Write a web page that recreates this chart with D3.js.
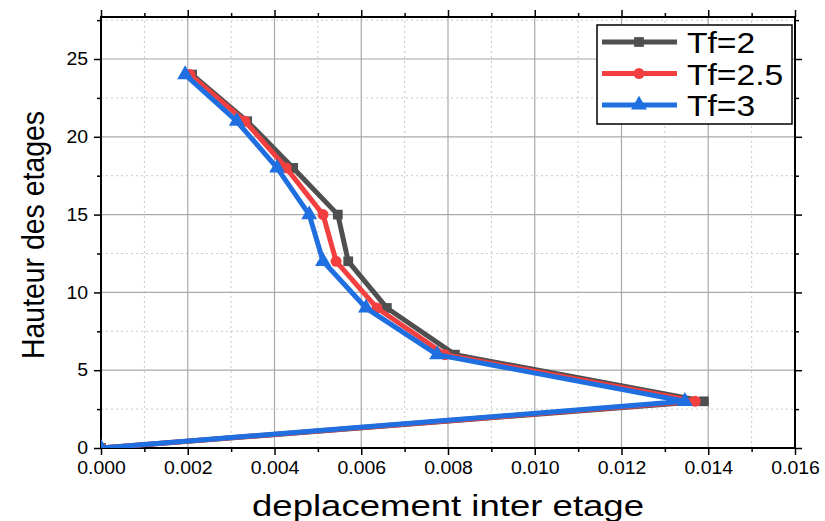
<!DOCTYPE html>
<html>
<head>
<meta charset="utf-8">
<script src="https://cdn.jsdelivr.net/npm/d3@7"></script>
<style>
  body { margin: 0; background: #fff; }
  text { font-family: "Liberation Sans", Arial, sans-serif; }
</style>
</head>
<body>
<div id="chart"></div>
<script>
const heights = [0, 3, 6, 9, 12, 15, 18, 21, 24];
const seriesNames = ["Tf=2", "Tf=2.5", "Tf=3"];
const tf2 = [0, 0.0139, 0.00816, 0.00659, 0.00570, 0.00546, 0.00443, 0.00337, 0.0021];
const tf25 = [0, 0.0137, 0.00793, 0.00636, 0.00542, 0.00512, 0.00427, 0.00332, 0.00205];
const tf3 = [0, 0.01346, 0.00775, 0.00611, 0.00512, 0.00480, 0.00406, 0.00313, 0.00194];
const colors = ["#4f4f4f", "#f23f3f", "#1f6fe0"];
const symbols = [d3.symbolSquare, d3.symbolCircle, d3.symbolTriangle];

const width = 825, height = 521;
const margin = {left: 101, right: 30, top: 17, bottom: 73};

const svg = d3.select("#chart").append("svg")
    .attr("width", width)
    .attr("height", height);

const x = d3.scaleLinear().domain([0, 0.016]).range([margin.left, width - margin.right]);
const y = d3.scaleLinear().domain([0, 27.7]).range([height - margin.bottom, margin.top]);

const x0 = x.range()[0], x1 = x.range()[1];
const y0 = y.range()[0], y1 = y.range()[1];

// stretch text a bit wider like the original export
function widen(sel, k) {
    sel.each(function() {
        const w = this.getComputedTextLength();
        d3.select(this).attr("textLength", w * k).attr("lengthAdjust", "spacingAndGlyphs");
    });
}

// grid
const gx = svg.append("g");
d3.range(0.001, 0.016, 0.002).forEach(v => {
    gx.append("line").attr("x1", x(v)).attr("x2", x(v)).attr("y1", y0).attr("y2", y1)
        .attr("stroke", "#c8c8c8").attr("stroke-width", 1).attr("stroke-dasharray", "2,3");
});
d3.range(2.5, 27.7, 5).forEach(v => {
    gx.append("line").attr("x1", x0).attr("x2", x1).attr("y1", y(v)).attr("y2", y(v))
        .attr("stroke", "#c8c8c8").attr("stroke-width", 1).attr("stroke-dasharray", "2,3");
});
d3.range(0.002, 0.0159, 0.002).forEach(v => {
    gx.append("line").attr("x1", x(v)).attr("x2", x(v)).attr("y1", y0).attr("y2", y1)
        .attr("stroke", "#a8a8a8").attr("stroke-width", 1.2);
});
[5, 10, 15, 20, 25].forEach(v => {
    gx.append("line").attr("x1", x0).attr("x2", x1).attr("y1", y(v)).attr("y2", y(v))
        .attr("stroke", "#a8a8a8").attr("stroke-width", 1.2);
});

// axes
const fmt = d3.format(".3f");
const xTicks = d3.range(0, 0.0161, 0.002);
const yTicks = [0, 5, 10, 15, 20, 25];
const xMinorTicks = d3.range(0.001, 0.016, 0.002);
const yMinorTicks = [2.5, 7.5, 12.5, 17.5, 22.5, 27.5];

const xAxis = svg.append("g").attr("transform", `translate(0,${y0})`)
    .call(d3.axisBottom(x).tickValues(xTicks).tickFormat(fmt).tickSize(7).tickPadding(6));
const xMinor = svg.append("g").attr("transform", `translate(0,${y0})`)
    .call(d3.axisBottom(x).tickValues(xMinorTicks).tickFormat("").tickSize(4));
const xTop = svg.append("g").attr("transform", `translate(0,${y1})`)
    .call(d3.axisTop(x).tickValues(xTicks).tickFormat("").tickSize(7));
const xTopMinor = svg.append("g").attr("transform", `translate(0,${y1})`)
    .call(d3.axisTop(x).tickValues(xMinorTicks).tickFormat("").tickSize(4));

const yAxis = svg.append("g").attr("transform", `translate(${x0},0)`)
    .call(d3.axisLeft(y).tickValues(yTicks).tickSize(7).tickPadding(6));
const yMinor = svg.append("g").attr("transform", `translate(${x0},0)`)
    .call(d3.axisLeft(y).tickValues(yMinorTicks).tickFormat("").tickSize(4));
const yRight = svg.append("g").attr("transform", `translate(${x1},0)`)
    .call(d3.axisRight(y).tickValues(yTicks).tickFormat("").tickSize(7));
const yRightMinor = svg.append("g").attr("transform", `translate(${x1},0)`)
    .call(d3.axisRight(y).tickValues(yMinorTicks).tickFormat("").tickSize(4));

[xAxis, xMinor, xTop, xTopMinor, yAxis, yMinor, yRight, yRightMinor].forEach(g => {
    g.select(".domain").remove();
    g.selectAll(".tick line").attr("stroke", "#000").attr("stroke-width", 1.5);
    g.selectAll("text").attr("font-size", 18).attr("fill", "#000")
        .style("font-family", "'Liberation Sans', Arial, sans-serif");
});
widen(xAxis.selectAll("text"), 1.08);
widen(yAxis.selectAll("text"), 1.08);

// frame
svg.append("rect").attr("x", x0).attr("y", y1).attr("width", x1 - x0).attr("height", y0 - y1)
    .attr("fill", "none").attr("stroke", "#000").attr("stroke-width", 2);

// series
const allSeries = [tf2, tf25, tf3];
const line = d3.line().x(d => x(d[0])).y(d => y(d[1]));
svg.append("clipPath").attr("id", "plotclip").append("rect")
    .attr("x", x0).attr("y", y1).attr("width", x1 - x0).attr("height", y0 - y1);

const plot = svg.append("g").attr("clip-path", "url(#plotclip)");
allSeries.forEach((vals, i) => {
    const pts = vals.map((v, j) => [v, heights[j]]);
    plot.append("path").datum(pts)
        .attr("d", line)
        .attr("fill", "none")
        .attr("stroke", colors[i])
        .attr("stroke-width", 5)
        .attr("stroke-linejoin", "miter");
    plot.selectAll(null).data(pts).enter().append("path")
        .attr("transform", d => `translate(${x(d[0])},${y(d[1])})`)
        .attr("d", d3.symbol().type(symbols[i]).size(i === 2 ? 110 : 95))
        .attr("fill", colors[i]);
});

// legend
const lg = svg.append("g").attr("transform", "translate(597,25)");
lg.append("rect").attr("width", 195).attr("height", 99)
    .attr("fill", "#fff").attr("stroke", "#000").attr("stroke-width", 1.5);
seriesNames.forEach((name, i) => {
    const yy = 17 + i * 31.5;
    lg.append("line").attr("x1", 5).attr("x2", 80).attr("y1", yy).attr("y2", yy)
        .attr("stroke", colors[i]).attr("stroke-width", 5);
    lg.append("path").attr("transform", `translate(42,${yy})`)
        .attr("d", d3.symbol().type(symbols[i]).size(i === 2 ? 110 : 95))
        .attr("fill", colors[i]);
    const t = lg.append("text").attr("x", 90).attr("y", yy + 11).attr("font-size", 30)
        .attr("fill", "#000").text(name);
    widen(t, 1.12);
});

// axis titles
svg.append("text").attr("x", (x0 + x1) / 2).attr("y", 516)
    .attr("text-anchor", "middle").attr("font-size", 30).attr("fill", "#000")
    .attr("textLength", 392).attr("lengthAdjust", "spacingAndGlyphs")
    .text("deplacement inter etage");
svg.append("text")
    .attr("transform", `translate(44,235) rotate(-90)`)
    .attr("text-anchor", "middle").attr("font-size", 32).attr("fill", "#000")
    .attr("textLength", 248).attr("lengthAdjust", "spacingAndGlyphs")
    .text("Hauteur des etages");
</script>
</body>
</html>
